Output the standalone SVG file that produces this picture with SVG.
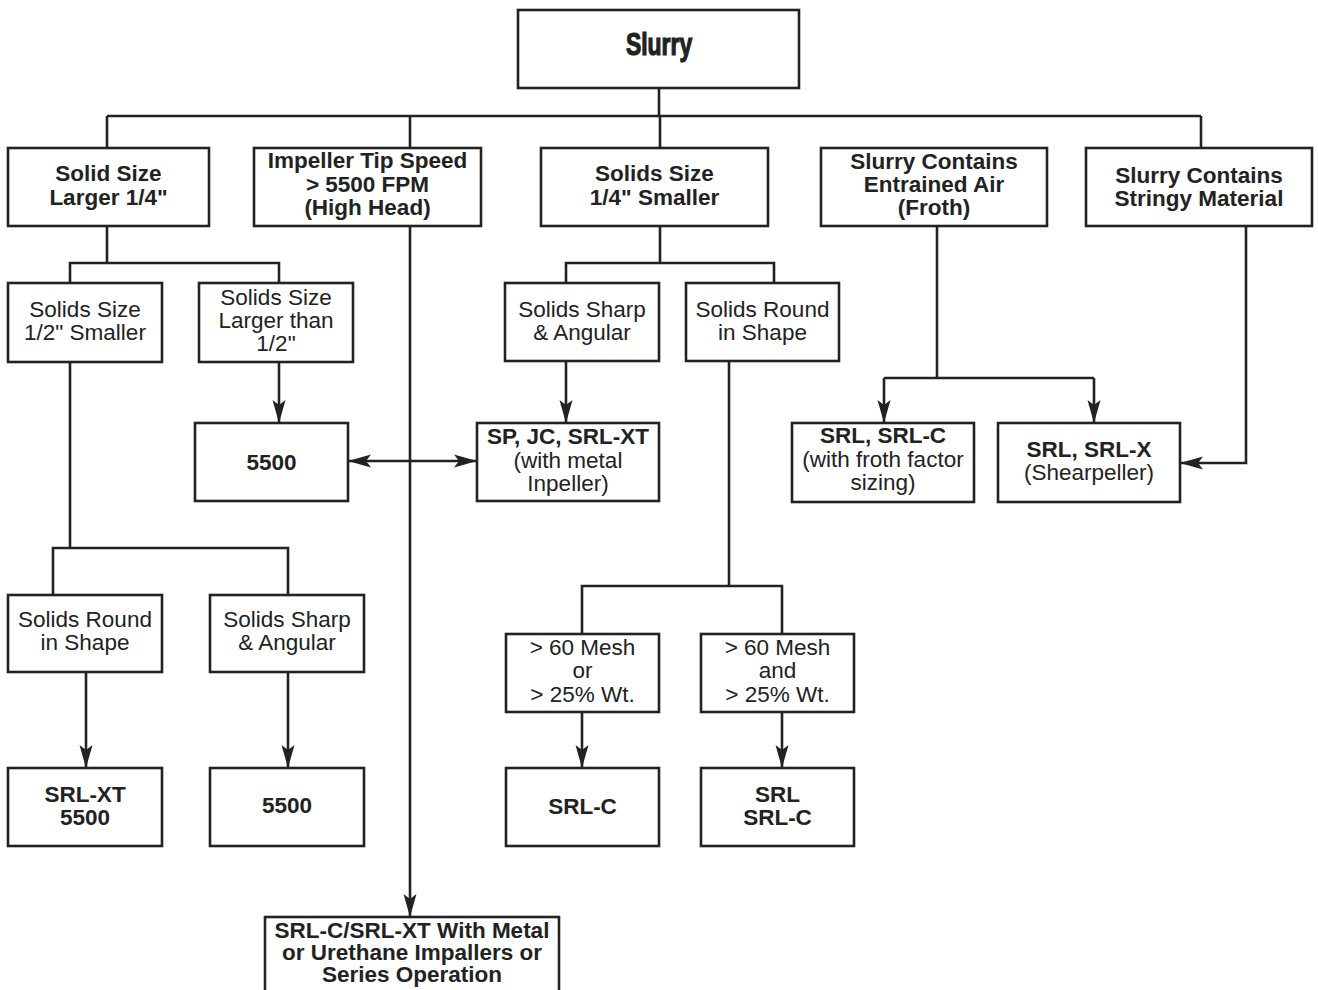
<svg xmlns="http://www.w3.org/2000/svg" width="1318" height="990" viewBox="0 0 1318 990">
<defs>
<style>
.box{fill:#fff;stroke:#222;stroke-width:2.6}
.ln{fill:none;stroke:#222;stroke-width:2.6}
.b{font-family:"Liberation Sans",Arial,sans-serif;font-weight:bold;font-size:22.5px;fill:#222;text-anchor:middle}
.r{font-family:"Liberation Sans",Arial,sans-serif;font-size:22.5px;fill:#222;text-anchor:middle}
.t{font-family:"Liberation Sans",Arial,sans-serif;font-weight:bold;font-size:31px;fill:#222;stroke:#222;stroke-width:1.2;text-anchor:middle}
</style>
<marker id="ah" markerUnits="userSpaceOnUse" markerWidth="26" markerHeight="16" viewBox="-24 -8 26 16" refX="0" refY="0" orient="auto-start-reverse">
<path d="M0,0 L-23,-6.5 L-18,0 L-23,6.5 Z" fill="#222"/>
</marker>
</defs>
<rect width="1318" height="990" fill="#fff"/>
<g id="connectors">
<path class="ln" d="M659,88 V116 M107,116 H1201 M107,116 V148 M410,116 V148 M660,116 V148 M1201,116 V148"/>
<path class="ln" d="M107,226 V263 M70,283 V263 H279 V283"/>
<path class="ln" d="M279,362 V423" marker-end="url(#ah)"/>
<path class="ln" d="M348,461 H477" marker-start="url(#ah)" marker-end="url(#ah)"/>
<path class="ln" d="M410,226 V917" marker-end="url(#ah)"/>
<path class="ln" d="M660,226 V263 M566,283 V263 H774 V283"/>
<path class="ln" d="M566,361 V423" marker-end="url(#ah)"/>
<path class="ln" d="M729,361 V586 M582,634 V586 H782 V634"/>
<path class="ln" d="M582,712 V768" marker-end="url(#ah)"/>
<path class="ln" d="M782,712 V768" marker-end="url(#ah)"/>
<path class="ln" d="M70,362 V548 M53,595 V548 H288 V595"/>
<path class="ln" d="M86,672 V768" marker-end="url(#ah)"/>
<path class="ln" d="M288,672 V768" marker-end="url(#ah)"/>
<path class="ln" d="M937,226 V378 M884,378 H1094"/>
<path class="ln" d="M884,378 V423" marker-end="url(#ah)"/>
<path class="ln" d="M1094,378 V423" marker-end="url(#ah)"/>
<path class="ln" d="M1246,226 V463 H1180" marker-end="url(#ah)"/>
</g>
<g id="slurry"><rect class="box" x="518" y="10" width="281" height="78"/><text class="t" transform="translate(659,55) scale(0.74,1)" x="0" y="0">Slurry</text></g>
<g id="solid-size-larger"><rect class="box" x="8" y="148" width="201" height="78"/><text class="b" x="108.5" y="181">Solid Size</text><text class="b" x="108.5" y="205">Larger 1/4"</text></g>
<g id="impeller-tip-speed"><rect class="box" x="254" y="148" width="227" height="78"/><text class="b" x="367.5" y="168">Impeller Tip Speed</text><text class="b" x="367.5" y="192">&gt; 5500 FPM</text><text class="b" x="367.5" y="215">(High Head)</text></g>
<g id="solids-size-smaller"><rect class="box" x="541" y="148" width="227" height="78"/><text class="b" x="654.5" y="181">Solids Size</text><text class="b" x="654.5" y="205">1/4" Smaller</text></g>
<g id="entrained-air"><rect class="box" x="821" y="148" width="226" height="78"/><text class="b" x="934" y="169">Slurry Contains</text><text class="b" x="934" y="192">Entrained Air</text><text class="b" x="934" y="215">(Froth)</text></g>
<g id="stringy"><rect class="box" x="1086" y="148" width="226" height="78"/><text class="b" x="1199" y="183">Slurry Contains</text><text class="b" x="1199" y="206">Stringy Material</text></g>
<g id="half-smaller"><rect class="box" x="8" y="283" width="154" height="79"/><text class="r" x="85" y="317">Solids Size</text><text class="r" x="85" y="340">1/2" Smaller</text></g>
<g id="larger-than-half"><rect class="box" x="199" y="283" width="154" height="79"/><text class="r" x="276" y="305">Solids Size</text><text class="r" x="276" y="328">Larger than</text><text class="r" x="276" y="351">1/2"</text></g>
<g id="sharp-angular-1"><rect class="box" x="505" y="283" width="154" height="78"/><text class="r" x="582" y="317">Solids Sharp</text><text class="r" x="582" y="340">&amp; Angular</text></g>
<g id="round-shape-1"><rect class="box" x="686" y="283" width="153" height="78"/><text class="r" x="762.5" y="317">Solids Round</text><text class="r" x="762.5" y="340">in Shape</text></g>
<g id="pump-5500-a"><rect class="box" x="195" y="423" width="153" height="78"/><text class="b" x="271.5" y="470">5500</text></g>
<g id="sp-jc-srlxt"><rect class="box" x="477" y="423" width="182" height="78"/><text class="b" x="568" y="444">SP, JC, SRL-XT</text><text class="r" x="568" y="468">(with metal</text><text class="r" x="568" y="491">Inpeller)</text></g>
<g id="srl-srlc-froth"><rect class="box" x="792" y="423" width="182" height="79"/><text class="b" x="883" y="443">SRL, SRL-C</text><text class="r" x="883" y="467">(with froth factor</text><text class="r" x="883" y="490">sizing)</text></g>
<g id="srl-srlx"><rect class="box" x="998" y="423" width="182" height="79"/><text class="b" x="1089" y="457">SRL, SRL-X</text><text class="r" x="1089" y="480">(Shearpeller)</text></g>
<g id="round-shape-2"><rect class="box" x="8" y="595" width="154" height="77"/><text class="r" x="85" y="627">Solids Round</text><text class="r" x="85" y="650">in Shape</text></g>
<g id="sharp-angular-2"><rect class="box" x="210" y="595" width="154" height="77"/><text class="r" x="287" y="627">Solids Sharp</text><text class="r" x="287" y="650">&amp; Angular</text></g>
<g id="mesh-or"><rect class="box" x="506" y="634" width="153" height="78"/><text class="r" x="582.5" y="655">&gt; 60 Mesh</text><text class="r" x="582.5" y="678">or</text><text class="r" x="582.5" y="702">&gt; 25% Wt.</text></g>
<g id="mesh-and"><rect class="box" x="701" y="634" width="153" height="78"/><text class="r" x="777.5" y="655">&gt; 60 Mesh</text><text class="r" x="777.5" y="678">and</text><text class="r" x="777.5" y="702">&gt; 25% Wt.</text></g>
<g id="srlxt-5500"><rect class="box" x="8" y="768" width="154" height="78"/><text class="b" x="85" y="802">SRL-XT</text><text class="b" x="85" y="825">5500</text></g>
<g id="pump-5500-b"><rect class="box" x="210" y="768" width="154" height="78"/><text class="b" x="287" y="813">5500</text></g>
<g id="srl-c"><rect class="box" x="506" y="768" width="153" height="78"/><text class="b" x="582.5" y="814">SRL-C</text></g>
<g id="srl-and-srlc"><rect class="box" x="701" y="768" width="153" height="78"/><text class="b" x="777.5" y="802">SRL</text><text class="b" x="777.5" y="825">SRL-C</text></g>
<g id="high-head-result"><rect class="box" x="265" y="917" width="294" height="90"/><text class="b" x="412" y="938">SRL-C/SRL-XT With Metal</text><text class="b" x="412" y="960">or Urethane Impallers or</text><text class="b" x="412" y="982">Series Operation</text></g>
</svg>
